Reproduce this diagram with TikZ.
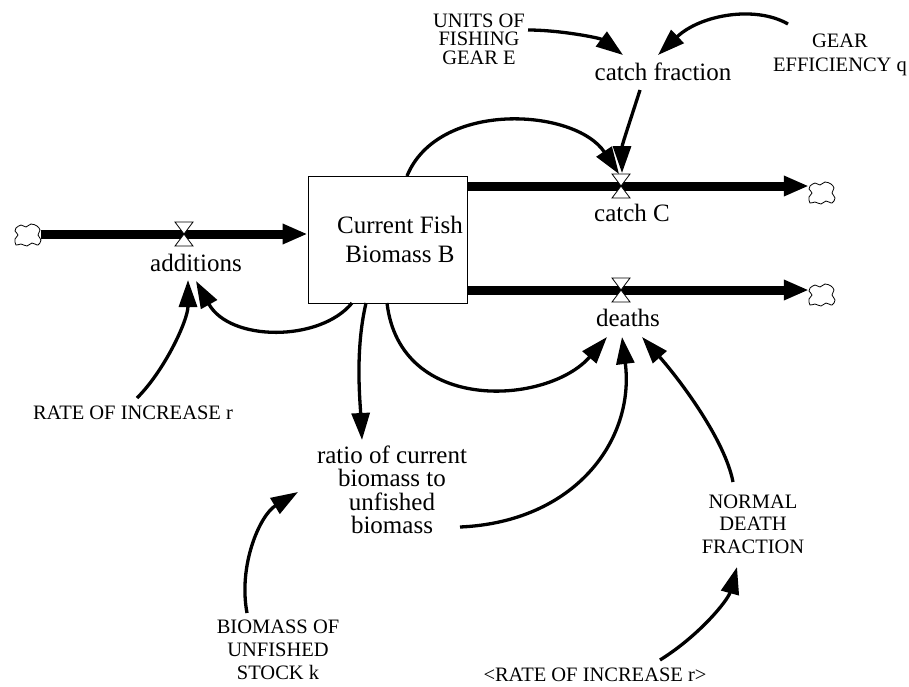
\documentclass[tikz,border=0pt]{standalone}
\usepackage{fontspec}
\setmainfont{Liberation Serif}
\usetikzlibrary{arrows.meta,calc}
\begin{document}
\begin{tikzpicture}[x=1pt,y=-1pt,
  lbl/.style={font=\fontsize{25}{29}\selectfont,align=center,inner sep=0pt},
  caps/.style={font=\fontsize{20.5}{23}\selectfont,align=center,inner sep=0pt},
  stockbox/.style={draw,line width=0.9pt,minimum width=159pt,minimum height=127pt,inner sep=0pt},
  pipe/.style={line width=9pt,-{Triangle[length=25pt,width=19pt]}},
  info/.style={line width=3.3pt,-{Triangle[length=27pt,width=18pt]}},
  cloudend/.style={minimum width=26pt,minimum height=22pt,inner sep=0pt},
  valve/.pic={
    \draw[fill=white,line width=0.8pt] (-9,-12) -- (9,-12) -- (0,0) -- cycle;
    \draw[fill=white,line width=0.8pt] (-9,12) -- (9,12) -- (0,0) -- cycle;},
  cloud/.pic={
    \draw[fill=white,line width=0.8pt] plot[smooth cycle,tension=0.55] coordinates
      {(-12,-7) (-7,-10) (-2,-8) (3,-11) (9,-9) (12,-5) (10,0) (13,5) (10,10) (4,8) (-1,11) (-7,9) (-12,10) (-13,4) (-10,0) (-13,-4)};}
]
\useasboundingbox (0,0) rectangle (909,686);
\fill[white] (0,0) rectangle (909,686);

% stock
\node[stockbox,label={[lbl,xshift=12.5pt]center:{Current Fish\\Biomass B}}] (stock) at (387.5,239.5) {};

% clouds
\node[cloudend] (c1) at (28,235) {};
\node[cloudend] (c2) at (822,193) {};
\node[cloudend] (c3) at (822,295) {};

% valves
\coordinate (vA) at (184,234);
\coordinate (vC) at (621,186);
\coordinate (vD) at (621,290);

% pipes
\draw[pipe] (c1.east |- vA) -- (stock.west |- vA);
\draw[pipe] (stock.east |- vC) -- (c2.west |- vC);
\draw[pipe] (stock.east |- vD) -- (c3.west |- vD);

\pic at (c1) {cloud};
\pic at (c2) {cloud};
\pic at (c3) {cloud};
\pic at (vA) {valve};
\pic at (vC) {valve};
\pic at (vD) {valve};

% labels
\node[lbl] (add) at (196,263) {additions};
\node[lbl] (catchC) at (632,213) {catch C};
\node[lbl] (deaths) at (628,318) {deaths};
\node[lbl] (cf) at (663,72) {catch fraction};
\node[caps,font=\fontsize{20.5}{18.5}\selectfont] (units) at (479,39) {UNITS OF\\FISHING\\GEAR E};
\node[caps,font=\fontsize{20.5}{24}\selectfont] (gear) at (840,55) {GEAR\\EFFICIENCY q};
\node[caps] (rate) at (133,413) {RATE OF INCREASE r};
\node[lbl,font=\fontsize{25}{23.5}\selectfont] (ratio) at (392,490) {ratio of current\\biomass to\\unfished\\biomass};
\node[caps] (bk) at (278,650) {BIOMASS OF\\UNFISHED\\STOCK k};
\node[caps,font=\fontsize{20.5}{22.5}\selectfont] (ndf) at (753,524) {NORMAL\\DEATH\\FRACTION};
\node[caps] (rate2) at (595,675) {<RATE OF INCREASE r>};

% information links
\draw[info] ($(stock)+(19.5,-63.5)$) .. controls (438,100) and (575,108) .. ($(vC)+(-2,-12)$);
\draw[info] ($(cf)+(-23,18)$) .. controls (632,115) and (622,145) .. ($(vC)+(1,-13)$);
\draw[info] ($(units)+(49,-9)$) .. controls (560,30) and (600,38) .. ($(cf)+(-40,-17)$);
\draw[info] ($(gear)+(-52,-31)$) .. controls (755,5) and (700,15) .. ($(cf)+(-5,-17)$);
\draw[info] ($(stock)+(-35.5,63.5)$) .. controls (320,342) and (230,342) .. ($(add)+(0,18)$);
\draw[info] ($(rate)+(4,-15)$) .. controls (165,370) and (188,320) .. ($(add)+(-8,17)$);
\draw[info] ($(stock)+(-21.5,63.5)$) .. controls (355,350) and (360,400) .. ($(ratio)+(-30,-50)$);
\draw[info] ($(stock)+(-0.5,63.5)$) .. controls (400,415) and (548,405) .. ($(deaths)+(-21,19)$);
\draw[info] ($(ratio)+(68,37)$) .. controls (575,522) and (635,440) .. ($(deaths)+(-6,19)$);
\draw[info] ($(ndf)+(-20,-42)$) .. controls (725,440) and (680,380) .. ($(deaths)+(14,19)$);
\draw[info] ($(bk)+(-31,-37)$) .. controls (238,565) and (260,515) .. ($(ratio)+(-94,2)$);
\draw[info] ($(rate2)+(65,-15)$) .. controls (700,635) and (728,600) .. ($(ndf)+(-16,43)$);
\end{tikzpicture}
\end{document}
